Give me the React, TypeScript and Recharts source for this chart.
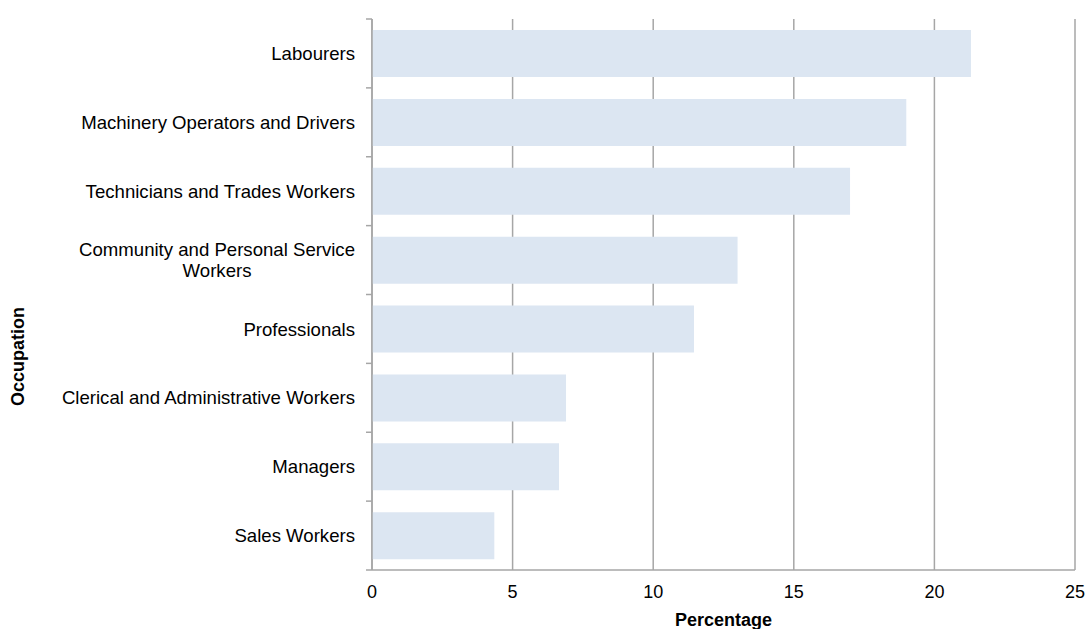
import { BarChart, Bar, XAxis, YAxis, CartesianGrid } from 'recharts';

const occupations = [
  'Labourers',
  'Machinery Operators and Drivers',
  'Technicians and Trades Workers',
  'Community and Personal Service Workers',
  'Professionals',
  'Clerical and Administrative Workers',
  'Managers',
  'Sales Workers',
];

const percentages = [21.3, 19.0, 17.0, 13.0, 11.45, 6.9, 6.65, 4.35];

const xTicks = [0, 5, 10, 15, 20, 25];

const LABEL_LINES: Record<string, string[]> = {
  'Community and Personal Service Workers': ['Community and Personal Service', 'Workers'],
};

const FONT = '"Liberation Sans", Arial, sans-serif';
const LABEL_SIZE = 18.6;
const AXIS_GREY = '#a6a6a6';
const BAR_FILL = '#dce6f2';

const CHART_W = 1087;
const CHART_H = 629;
const MARGIN_TOP = 19;
const X_AXIS_H = 59;
const BAND = (CHART_H - MARGIN_TOP - X_AXIS_H) / occupations.length;

const data = occupations.map((name, i) => ({ occupation: name, value: percentages[i] }));

let measureCtx: CanvasRenderingContext2D | null = null;
function textWidth(s: string) {
  if (!measureCtx) measureCtx = document.createElement('canvas').getContext('2d');
  if (!measureCtx) return s.length * 9;
  measureCtx.font = `${LABEL_SIZE}px ${FONT}`;
  return measureCtx.measureText(s).width;
}

function OccupationTick({ x, y, payload, index }: any) {
  const lines = LABEL_LINES[payload.value] ?? [payload.value];
  const right = x - 17;
  const lineHeight = 21;
  const top = y - ((lines.length - 1) * lineHeight) / 2;
  const isLast = index === occupations.length - 1;

  // short ticks on the category boundaries, like the original
  const boundaries = (
    <>
      <line x1={x - 6} x2={x} y1={y - BAND / 2} y2={y - BAND / 2} stroke={AXIS_GREY} strokeWidth={1.5} />
      {isLast && (
        <line x1={x - 6} x2={x} y1={y + BAND / 2} y2={y + BAND / 2} stroke={AXIS_GREY} strokeWidth={1.5} />
      )}
    </>
  );

  if (lines.length === 1) {
    return (
      <g>
        {boundaries}
        <text x={right} y={y} dy="0.355em" textAnchor="end" fontSize={LABEL_SIZE} fill="#000" fontFamily={FONT}>
          {lines[0]}
        </text>
      </g>
    );
  }

  // multi-line labels are centred within a right-aligned block
  const widest = Math.max(...lines.map(textWidth));
  const cx = right - widest / 2;
  return (
    <g>
      {boundaries}
      <text textAnchor="middle" fontSize={LABEL_SIZE} fill="#000" fontFamily={FONT}>
        {lines.map((ln, i) => (
          <tspan key={i} x={cx} y={top + i * lineHeight} dy="0.355em">
            {ln}
          </tspan>
        ))}
      </text>
    </g>
  );
}

export default function App() {
  return (
    <div style={{ position: 'absolute', left: 0, top: 0, width: CHART_W, height: CHART_H, background: '#fff' }}>
      <BarChart
        width={CHART_W}
        height={CHART_H}
        data={data}
        layout="vertical"
        margin={{ top: MARGIN_TOP, right: 12, bottom: 0, left: 0 }}
        barCategoryGap="16%"
        style={{ fontFamily: FONT }}
      >
        <CartesianGrid vertical horizontal={false} stroke={AXIS_GREY} strokeWidth={1.5} />
        <XAxis
          type="number"
          domain={[0, 25]}
          ticks={xTicks}
          height={X_AXIS_H}
          axisLine={{ stroke: AXIS_GREY, strokeWidth: 1.5 }}
          tickLine={false}
          tickSize={6}
          tickMargin={9}
          tick={{ fontSize: 18, fill: '#000', fontFamily: FONT }}
          label={{
            value: 'Percentage',
            position: 'insideBottom',
            offset: 3,
            style: { fontSize: 18, fontWeight: 'bold', fill: '#000', fontFamily: FONT },
          }}
        />
        <YAxis
          type="category"
          dataKey="occupation"
          width={372}
          axisLine={{ stroke: AXIS_GREY, strokeWidth: 1.5 }}
          tickLine={false}
          tickSize={0}
          tickMargin={0}
          interval={0}
          tick={<OccupationTick />}
          label={{
            value: 'Occupation',
            content: ({ viewBox }: any) => (
              <text
                x={viewBox.x + 24}
                y={viewBox.y + viewBox.height / 2 + 62}
                transform={`rotate(-90, ${viewBox.x + 24}, ${viewBox.y + viewBox.height / 2 + 62})`}
                textAnchor="middle"
                fontSize={18}
                fontWeight="bold"
                fill="#000"
                fontFamily={FONT}
              >
                Occupation
              </text>
            ),
          }}
        />
        <Bar dataKey="value" fill={BAR_FILL} isAnimationActive={false} />
      </BarChart>
    </div>
  );
}
